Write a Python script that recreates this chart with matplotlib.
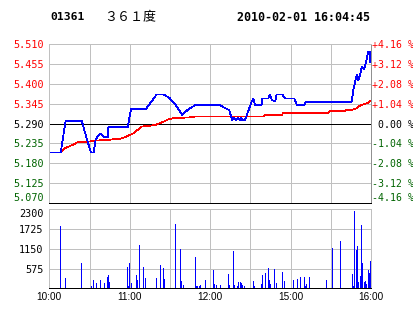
import numpy as np
import matplotlib
matplotlib.use("Agg")
import matplotlib.pyplot as plt

# header
code = "01361"
name = "３６１度"
stamp = "2010-02-01 16:04:45"
prev_close = 5.290

# intraday price (minutes of trading since 10:00, price)
price_min = [0, 8.5, 12.2, 24.2, 26.1, 28.6, 31.1, 33.1, 34.6, 37.8, 40.3, 41.0,
             43.6, 44.0, 58.5, 60.9, 71.9, 80.1, 85.3, 90.0, 93.8, 99.2, 103.7,
             109.2, 127.3, 131.1, 134.1, 136.5, 138.0, 139.1, 140.5, 142.0, 143.0,
             144.0, 146.0, 147.3, 151.0, 152.2, 153.5, 158.4, 158.9, 163.4, 164.6,
             165.9, 168.4, 169.6, 173.8, 175.8, 182.8, 184.6, 190.2, 191.3, 225.6,
             226.8, 229.3, 230.5, 231.8, 233.1, 235.0, 236.0, 238.0, 239.0, 239.5]
price_val = [5.210, 5.210, 5.298, 5.298, 5.272, 5.240, 5.210, 5.210, 5.246, 5.263,
             5.254, 5.252, 5.252, 5.280, 5.280, 5.330, 5.330, 5.371, 5.371, 5.360,
             5.344, 5.314, 5.330, 5.342, 5.342, 5.333, 5.328, 5.300, 5.306, 5.300,
             5.306, 5.300, 5.306, 5.300, 5.300, 5.314, 5.351, 5.360, 5.342, 5.342,
             5.360, 5.360, 5.371, 5.356, 5.351, 5.371, 5.371, 5.360, 5.360, 5.342,
             5.342, 5.351, 5.351, 5.383, 5.425, 5.411, 5.425, 5.448, 5.441, 5.457,
             5.490, 5.490, 5.460]

# average price line
avg_min = [0, 8.5, 11.7, 15.4, 19.2, 21.6, 29.1, 34.1, 44.0, 54.0, 58.5, 62.7,
           66.4, 68.9, 78.9, 85.0, 88.8, 93.8, 103.7, 109.2, 159.6, 160.9, 173.4,
           174.6, 208.1, 209.4, 220.6, 221.9, 226.8, 229.3, 231.8, 235.5, 238.0, 239.5]
avg_val = [5.210, 5.210, 5.222, 5.228, 5.234, 5.240, 5.240, 5.243, 5.245, 5.249,
           5.256, 5.263, 5.274, 5.282, 5.286, 5.295, 5.302, 5.306, 5.307, 5.310,
           5.310, 5.314, 5.314, 5.320, 5.320, 5.325, 5.325, 5.328, 5.329, 5.333,
           5.340, 5.345, 5.348, 5.354]

# volume bars
vol_min = [8.2, 11.9, 23.9, 31.3, 32.8, 35.1, 38.0, 41.0, 43.3, 44.0, 44.8, 58.2,
           59.0, 59.7, 61.2, 64.9, 65.6, 67.2, 70.1, 71.6, 79.8, 82.8, 85.0, 85.8,
           94.0, 97.7, 98.5, 100.0, 108.9, 109.7, 110.7, 111.9, 112.6, 116.4, 122.3,
           123.1, 124.6, 127.6, 133.5, 134.3, 137.3, 138.0, 140.2, 141.0, 142.5,
           143.2, 144.0, 145.5, 152.2, 153.0, 158.2, 158.9, 161.1, 163.4, 164.1,
           164.9, 167.9, 169.3, 173.8, 175.3, 182.0, 185.0, 187.2, 190.2, 191.0,
           191.7, 194.0, 206.6, 211.1, 217.1, 226.0, 226.8, 227.5, 229.0, 229.8,
           230.5, 232.0, 232.7, 233.5, 235.0, 235.7, 236.4, 238.0, 238.7, 239.5]
vol_val = [1815, 301, 738, 78, 243, 155, 243, 155, 340, 388, 184, 621,
           68, 738, 155, 388, 243, 1252, 621, 301, 301, 679, 592, 272,
           1873, 1145, 213, 97, 912, 68, 68, 68, 97, 243, 534,
           126, 97, 97, 417, 97, 1087, 97, 68, 184, 184,
           155, 97, 68, 213, 68, 126, 388, 446, 592, 243,
           126, 563, 155, 476, 213, 243, 272, 330, 330, 68,
           126, 330, 243, 1174, 1378, 417, 68, 2252, 1116, 1233,
           184, 359, 1844, 738, 184, 213, 126, 534, 446, 796]

price_ticks = [5.070, 5.125, 5.180, 5.235, 5.290, 5.345, 5.400, 5.455, 5.510]
vol_ticks = [575, 1150, 1725, 2300]
time_ticks = [0, 60, 120, 180, 240]
time_labels = ["10:00", "11:00", "12:00", "15:00", "16:00"]

RED = "#ff0000"
GREEN = "#006400"
GRID = "#c0c0c0"
MONO = "DejaVu Sans Mono"
PX = 0.72  # one pixel in points


def tick_color(v):
    if np.isclose(v, prev_close):
        return "black"
    return RED if v > prev_close else GREEN


def frame(a):
    a.grid(color=GRID, lw=PX, antialiased=False)
    a.set_axisbelow(True)
    for s in ["left", "top", "right"]:
        a.spines[s].set_color(GRID)
        a.spines[s].set_linewidth(PX)
        a.spines[s].set_antialiased(False)
    a.spines["bottom"].set_color("black")
    a.spines["bottom"].set_linewidth(PX)
    a.spines["bottom"].set_antialiased(False)


fig = plt.figure(figsize=(4.14, 3.14), dpi=100)

# price panel
ax = fig.add_axes([0.1191, 0.3535, 0.7771, 0.5054])
ax.set_xlim(0, 240)
ax.set_ylim(price_ticks[0], price_ticks[-1])
ax.set_xticks(range(0, 241, 30))
ax.set_xticklabels([])
ax.set_yticks(price_ticks)
ax.set_yticklabels(["%.3f" % t for t in price_ticks], family=MONO, fontsize=7.3)
for lab, t in zip(ax.get_yticklabels(), price_ticks):
    lab.set_color(tick_color(t))
ax.get_yticklabels()[0].set_va("bottom")
ax.tick_params(length=0, pad=4)
frame(ax)
ax.spines["right"].set_color("#909090")
ax.axhline(prev_close, color="black", lw=PX, antialiased=False)
ax.plot(avg_min, avg_val, color=RED, lw=0.55, antialiased=False)
ax.plot(price_min, price_val, color="#0000ff", lw=0.55, antialiased=False)

# percentage axis on the right
ax2 = ax.twinx()
ax2.set_ylim(ax.get_ylim())
ax2.set_yticks(price_ticks)
pct_labels = []
for t in price_ticks:
    p = (t - prev_close) / prev_close * 100
    if np.isclose(p, 0):
        pct_labels.append(" 0.00 %")
    else:
        pct_labels.append("%+.2f %%" % p)
ax2.set_yticklabels(pct_labels, family=MONO, fontsize=7.1)
for lab, t in zip(ax2.get_yticklabels(), price_ticks):
    lab.set_color(tick_color(t))
ax2.get_yticklabels()[0].set_va("bottom")
ax2.tick_params(length=0, pad=1)
for s in ax2.spines.values():
    s.set_visible(False)

# volume panel
axv = fig.add_axes([0.1191, 0.0818, 0.7771, 0.2516])
axv.bar(vol_min, vol_val, width=0.75, color="#0000ff", linewidth=0, antialiased=False)
axv.set_xlim(0, 240)
axv.set_ylim(0, 2300)
axv.set_yticks(vol_ticks)
axv.set_yticklabels([str(v) for v in vol_ticks], family=MONO, fontsize=7.3)
axv.get_yticklabels()[-1].set_va("top")
axv.set_xticks(range(0, 241, 30))
axv.set_xticklabels([time_labels[time_ticks.index(t)] if t in time_ticks else ""
                     for t in range(0, 241, 30)], family="Liberation Sans", fontsize=7.2)
axv.tick_params(length=0, pad=4)
axv.tick_params(axis="x", pad=3)
frame(axv)

# header texts
fig.text(50 / 414, 1 - 17.5 / 314, code, family=MONO, weight="bold",
         fontsize=8.2, va="center", ha="left")
fig.text(104 / 414, 1 - 17.5 / 314, name, family=["Noto Sans CJK SC", "DejaVu Sans"],
         fontsize=9.4, va="center", ha="left")
fig.text(370 / 414, 1 - 17.5 / 314, stamp, family=MONO, weight="bold",
         fontsize=8.4, va="center", ha="right")

fig.savefig("out.png", dpi=100)
